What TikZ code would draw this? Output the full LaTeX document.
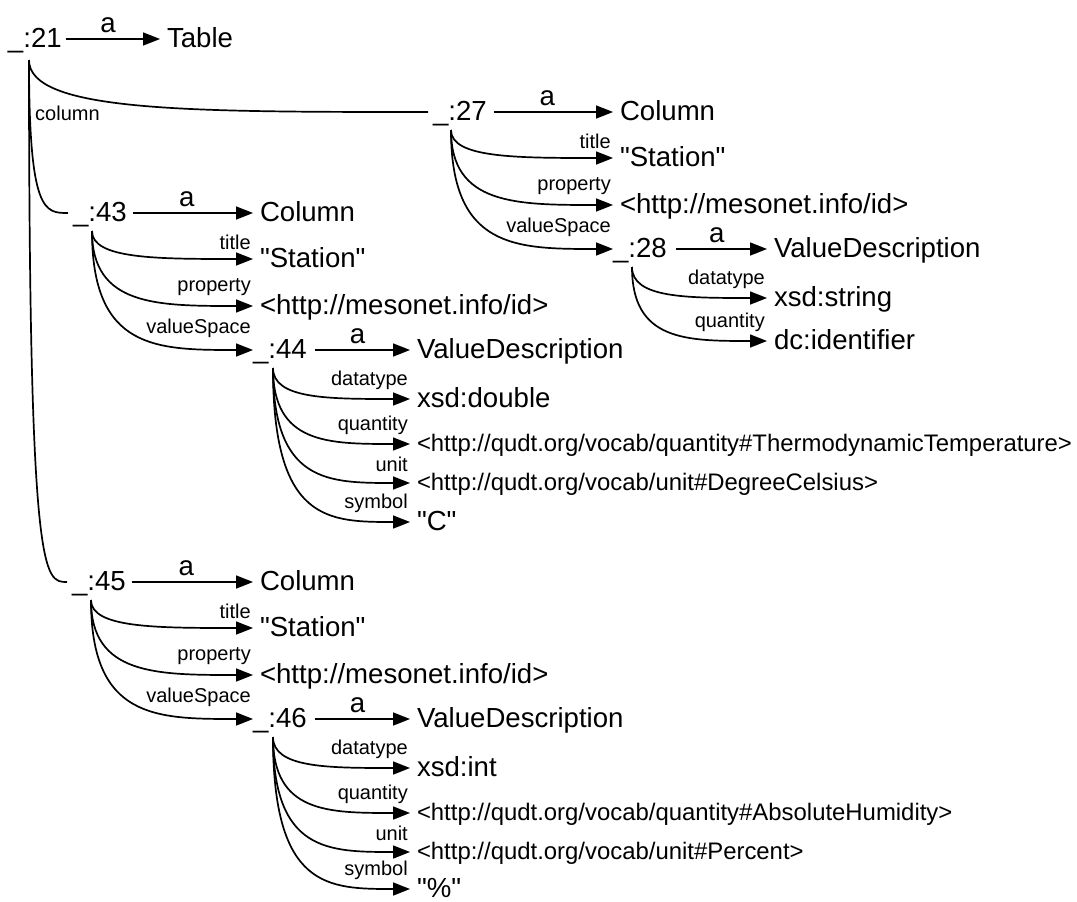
\documentclass[tikz,border=0pt]{standalone}
\usepackage{fontspec}
\setmainfont{Liberation Sans}
\usetikzlibrary{arrows.meta,calc}
\newcommand\bigf{\fontsize{27.6}{30}\selectfont}
\newcommand\medf{\fontsize{23.9}{26}\selectfont}
\newcommand\smallf{\fontsize{20}{22}\selectfont}
\newcommand\qt[1]{\textquotedbl#1\textquotedbl}
\tikzset{
  bn/.style={font=\bigf, inner sep=0pt, outer sep=0pt, text height=16pt, text depth=0pt, anchor=west},
  lit/.style={bn, outer xsep=7pt},
  url/.style={font=\medf, inner sep=0pt, outer sep=0pt, outer xsep=7pt, text height=14pt, text depth=0pt, anchor=west},
  lbl/.style={font=\smallf, inner sep=0pt, anchor=base east},
  alab/.style={font=\bigf, inner sep=0pt, anchor=base, pos=0.45, yshift=7pt},
  link/.style={line width=1.7pt},
  arr/.style={link, -{Triangle[length=17pt,width=13pt]}},
}
% branch edge with arrow: start coordinate, target node, label, label offset
\newcommand\bedge[4]{%
  \draw[arr] let \p1=(#1), \p2=(#2.west) in (\p1) .. controls (\x1,\y2) and ({\x1+0.4*(\x2-\x1)},\y2) .. (\p2);
  \node[lbl] (#2-l) at ($(#2.west)+(-2,#4)$) {#3};
}
% column edge without arrow
\newcommand\cedge[2]{%
  \draw[link] let \p1=(#1), \p2=($(#2.west)+(-5,0)$) in (\p1) .. controls (\x1,\y2) and ({\x1+0.4*(\x2-\x1)},\y2) .. (\p2);
}
\begin{document}
\begin{tikzpicture}[x=1pt,y=-1pt]
\useasboundingbox (0,0) rectangle (1077,902);
% root
\node[bn] (n21) at (8,39) {\_:21};
\node[lit] (table) at (160,39) {Table};
\draw[arr] ($(n21.east)+(4,0)$) -- node[alab]{a} (table.west);
\coordinate (b21) at ($(n21.west)+(21,21)$);
\node[lbl, anchor=base west] (colLbl) at (35,120) {column};

% _:27
\node[bn] (n27) at (433,112) {\_:27};
\node[lit] (c27) at (613,112) {Column};
\draw[arr] ($(n27.east)+(7,0)$) -- node[alab]{a} (c27.west);
\coordinate (b27) at ($(n27.west)+(18,18)$);
\node[lit] (s27) at (613,158) {\qt{Station}};
\node[lit] (p27) at (613,205) {<http://mesonet.info/id>};
\node[bn] (n28) at (613,249) {\_:28};
\bedge{b27}{s27}{title}{-10}
\bedge{b27}{p27}{property}{-15}
\bedge{b27}{n28}{valueSpace}{-17}
\node[lit] (vd28) at (767,249) {ValueDescription};
\draw[arr] ($(n28.east)+(9,0)$) -- node[alab]{a} (vd28.west);
\coordinate (b28) at ($(n28.west)+(19,18)$);
\node[lit] (dt28) at (767,298) {xsd:string};
\node[lit] (q28) at (767,341) {dc:identifier};
\bedge{b28}{dt28}{datatype}{-14}
\bedge{b28}{q28}{quantity}{-14}

% _:43
\node[bn] (n43) at (73,213) {\_:43};
\node[lit] (c43) at (253,213) {Column};
\draw[arr] ($(n43.east)+(6,0)$) -- node[alab]{a} (c43.west);
\coordinate (b43) at ($(n43.west)+(19,18)$);
\node[lit] (s43) at (253,259) {\qt{Station}};
\node[lit] (p43) at (253,306) {<http://mesonet.info/id>};
\node[bn] (n44) at (253,350) {\_:44};
\bedge{b43}{s43}{title}{-10}
\bedge{b43}{p43}{property}{-15}
\bedge{b43}{n44}{valueSpace}{-17}
\node[lit] (vd44) at (410,350) {ValueDescription};
\draw[arr] ($(n44.east)+(8,0)$) -- node[alab]{a} (vd44.west);
\coordinate (b44) at ($(n44.west)+(20,18)$);
\node[lit] (dt44) at (410,399) {xsd:double};
\node[url] (q44) at (410,444) {<http://qudt.org/vocab/quantity\#ThermodynamicTemperature>};
\node[url] (u44) at (410,483) {<http://qudt.org/vocab/unit\#DegreeCelsius>};
\node[lit] (sy44) at (410,522) {\qt{C}};
\bedge{b44}{dt44}{datatype}{-14}
\bedge{b44}{q44}{quantity}{-14}
\bedge{b44}{u44}{unit}{-12}
\bedge{b44}{sy44}{symbol}{-14}

% _:45
\node[bn] (n45) at (72,582) {\_:45};
\node[lit] (c45) at (253,582) {Column};
\draw[arr] ($(n45.east)+(6,0)$) -- node[alab]{a} (c45.west);
\coordinate (b45) at ($(n45.west)+(19,18)$);
\node[lit] (s45) at (253,628) {\qt{Station}};
\node[lit] (p45) at (253,675) {<http://mesonet.info/id>};
\node[bn] (n46) at (253,719) {\_:46};
\bedge{b45}{s45}{title}{-10}
\bedge{b45}{p45}{property}{-15}
\bedge{b45}{n46}{valueSpace}{-17}
\node[lit] (vd46) at (410,719) {ValueDescription};
\draw[arr] ($(n46.east)+(8,0)$) -- node[alab]{a} (vd46.west);
\coordinate (b46) at ($(n46.west)+(20,18)$);
\node[lit] (dt46) at (410,768) {xsd:int};
\node[url] (q46) at (410,813) {<http://qudt.org/vocab/quantity\#AbsoluteHumidity>};
\node[url] (u46) at (410,852) {<http://qudt.org/vocab/unit\#Percent>};
\node[lit] (sy46) at (410,889) {\qt{\%}};
\bedge{b46}{dt46}{datatype}{-14}
\bedge{b46}{q46}{quantity}{-14}
\bedge{b46}{u46}{unit}{-12}
\bedge{b46}{sy46}{symbol}{-14}

% column edges
\cedge{b21}{n27}
\cedge{b21}{n43}
\cedge{b21}{n45}
\end{tikzpicture}
\end{document}
